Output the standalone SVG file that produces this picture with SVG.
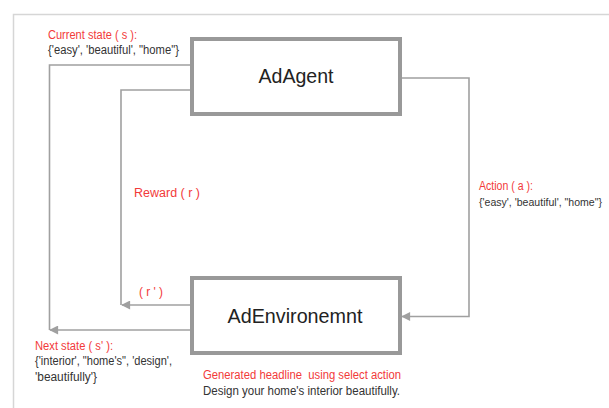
<svg xmlns="http://www.w3.org/2000/svg" width="609" height="408" viewBox="0 0 609 408">
<style>
.frame{fill:#ffffff;stroke:#d6d6d6;stroke-width:1.5}
.box{fill:#ffffff;stroke:#999999;stroke-width:4}
.line{fill:none;stroke:#a0a0a0;stroke-width:1.6}
.title{font-family:"Liberation Sans",Arial,sans-serif;font-size:21px;fill:#222222}
.red{font-family:"Liberation Sans",Arial,sans-serif;font-size:12px;fill:#f23a3a}
.txt{font-family:"Liberation Sans",Arial,sans-serif;font-size:12px;fill:#333333}
</style>
<defs>
<marker id="arr" viewBox="0 0 10 10" refX="9" refY="5" markerWidth="10" markerHeight="9" markerUnits="userSpaceOnUse" orient="auto">
<path d="M0,0 L10,5 L0,10 z" fill="#a0a0a0"/>
</marker>
</defs>
<rect width="609" height="408" fill="#ffffff"/>
<rect class="frame" x="13.5" y="14.5" width="620" height="420"/>
<g id="connectors">
<polyline class="line" points="401,78 469,78 469,316.5 402,316.5" marker-end="url(#arr)"/>
<polyline class="line" points="191,90 121,90 121,305"/>
<line class="line" x1="191" y1="305" x2="122" y2="305" marker-end="url(#arr)"/>
<polyline class="line" points="191,65 49.5,65 49.5,330"/>
<line class="line" x1="191" y1="330" x2="50" y2="330" marker-end="url(#arr)"/>
</g>
<g id="adagent">
<rect class="box" x="192" y="39" width="208" height="75"/>
<text class="title" x="296" y="83" text-anchor="middle" textLength="75" lengthAdjust="spacingAndGlyphs">AdAgent</text>
</g>
<g id="adenvironment">
<rect class="box" x="192" y="278" width="208" height="75"/>
<text class="title" x="295" y="323" text-anchor="middle" textLength="135" lengthAdjust="spacingAndGlyphs">AdEnvironemnt</text>
</g>
<g id="labels">
<text class="red" x="48" y="39" textLength="89" lengthAdjust="spacingAndGlyphs">Current state ( s ):</text>
<text class="txt" x="48" y="54" textLength="131" lengthAdjust="spacingAndGlyphs">{'easy', 'beautiful', "home"}</text>
<text class="red" x="134" y="197" textLength="66" lengthAdjust="spacingAndGlyphs">Reward ( r )</text>
<text class="red" x="479" y="190" textLength="54" lengthAdjust="spacingAndGlyphs">Action ( a ):</text>
<text class="txt" x="479" y="206" style="font-size:10px" textLength="123" lengthAdjust="spacingAndGlyphs">{'easy', 'beautiful', "home"}</text>
<text class="red" x="139" y="296" textLength="24" lengthAdjust="spacingAndGlyphs">( r ' )</text>
<text class="red" x="35" y="350" textLength="78" lengthAdjust="spacingAndGlyphs">Next state ( s' ):</text>
<text class="txt" x="35" y="365" textLength="137" lengthAdjust="spacingAndGlyphs">{'interior', "home's", 'design',</text>
<text class="txt" x="35" y="381" textLength="62" lengthAdjust="spacingAndGlyphs">'beautifully'}</text>
<text class="red" x="203" y="379" textLength="198" lengthAdjust="spacingAndGlyphs">Generated headline&#160; using select action</text>
<text class="txt" x="203" y="395" textLength="197" lengthAdjust="spacingAndGlyphs">Design your home's interior beautifully.</text>
</g>
</svg>
